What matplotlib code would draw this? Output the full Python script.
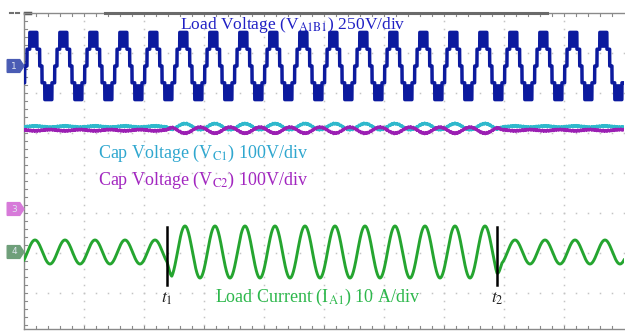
import numpy as np
import matplotlib.pyplot as plt
from matplotlib.patches import Polygon

plt.rcParams['font.family'] = ['Liberation Serif', 'DejaVu Serif']
plt.rcParams['mathtext.fontset'] = 'stix'

# screen: 10 horizontal divisions, 8 vertical divisions (units = div)
t_events = [2.383, 7.883]          # t1, t2
period = 0.5                        # fundamental period, div

# load voltage (5-level staircase)
vload_offset = 6.675
vload_step = 0.42
vload_mod = 2.05
vload_peak = 0.155

# capacitor voltages: offset and ripple before t1 / between / after t2
cap_offsets = [5.16, 5.07]
cap_ripple = [0.015, 0.075, 0.015]
cap_colors = ['#2fb9cc', '#9b1fb3']

# load current
iload_offset = 2.025
iload_amp = [0.30, 0.65, 0.30]
iload_peak = 0.183

# channel markers (label, level, colour)
markers = [('1', 6.675, '#4a5cb4'), ('3', 3.10, '#d77ad9'), ('4', 2.025, '#6f9f7a')]

x = np.linspace(0, 10, 8000)


def segment_values(vals, ramp=0.08):
    out = np.full_like(x, vals[0])
    for t, a0, a1 in zip(t_events, vals[:-1], vals[1:]):
        w = np.clip((x - t) / ramp, 0, 1)
        out = np.where(x >= t, a0 + (a1 - a0) * w, out)
    return out


fig = plt.figure(figsize=(6.25, 3.31), dpi=100)
ax = fig.add_axes([24 / 625, 2 / 331, 600 / 625, 316 / 331])
ax.set_xlim(0, 10)
ax.set_ylim(0.1, 8)
ax.set_xticks([])
ax.set_yticks([])
ax.spines['right'].set_visible(False)
for s in ['left', 'bottom', 'top']:
    ax.spines[s].set_color('#8a8a8a')
    ax.spines[s].set_linewidth(1.0)

# dotted graticule
gx = np.arange(0, 10.01, 0.2)
gy = np.arange(0.2, 8.0, 0.2)
for k in range(1, 8):
    ax.plot(gx, np.full_like(gx, k), ls='none', marker='s', ms=1.1,
            color='#c4c4c4', mew=0, zorder=1)
for k in range(1, 10):
    ax.plot(np.full_like(gy, k), gy, ls='none', marker='s', ms=1.1,
            color='#c4c4c4', mew=0, zorder=1)

# edge ticks
for yy in np.arange(0.2, 8.0, 0.2):
    ax.plot([0, 0.05], [yy, yy], color='#8a8a8a', lw=0.8, zorder=2)
for xx in np.arange(0.2, 10.0, 0.2):
    ax.plot([xx, xx], [0.1, 0.17], color='#8a8a8a', lw=0.8, zorder=2)
    ax.plot([xx, xx], [8, 7.93], color='#8a8a8a', lw=0.8, zorder=2)
ax.plot([1.35, 8.72], [8, 8], color='#6a6a6a', lw=2.2, clip_on=False, zorder=3)
ax.plot([-0.23, -0.18], [8, 8], color='#707070', lw=1.5, clip_on=False)
ax.plot([-0.14, -0.09], [8, 8], color='#707070', lw=1.5, clip_on=False)
ax.plot([0.02, 0.1], [8, 8], color='#555555', lw=2.5, clip_on=False)

# load voltage
ref = vload_mod * np.cos(2 * np.pi * (x - vload_peak) / period)
level = np.clip(np.round(ref), -2, 2)
yv = vload_offset + vload_step * level
ax.plot(x, yv, color='#0c1a9e', lw=2.5, zorder=5, solid_joinstyle='round')
top = level == 2
bot = level == -2
ax.fill_between(x, vload_offset + 1.15 * vload_step, vload_offset + 2 * vload_step,
                where=top, color='#0c1a9e', lw=1.2, zorder=5)
ax.fill_between(x, vload_offset - 1.15 * vload_step, vload_offset - 2 * vload_step,
                where=bot, color='#0c1a9e', lw=1.2, zorder=5)

# capacitor voltages
rip = segment_values(cap_ripple)
hf = 0.012 * np.sin(2 * np.pi * x * 23.7) + 0.01 * np.sin(2 * np.pi * x * 61.3)
for i, (off, col) in enumerate(zip(cap_offsets, cap_colors)):
    sgn = 1 if i == 0 else -1
    yc = off + sgn * rip * np.cos(2 * np.pi * (x - iload_peak) / period) + sgn * hf
    ax.plot(x, yc, color=col, lw=1.9, zorder=4 + i)

# load current
amp = segment_values(iload_amp)
yi = iload_offset + amp * np.cos(2 * np.pi * (x - iload_peak) / period)
ax.plot(x, yi, color='#25a530', lw=2.1, zorder=5)

# event markers
for t, lab in zip(t_events, ['$t_1$', '$t_2$']):
    ax.plot([t, t], [1.2, 2.65], color='black', lw=1.8, zorder=6)
    ax.text(t, 0.85, lab, ha='center', va='center', fontsize=12.5, color='#222222')

# channel markers
for lab, yy, col in markers:
    poly = Polygon([[-0.28, yy - 0.16], [-0.07, yy - 0.16], [0, yy],
                    [-0.07, yy + 0.16], [-0.28, yy + 0.16]],
                   closed=True, color=col, clip_on=False, zorder=7)
    ax.add_patch(poly)
    ax.text(-0.165, yy, lab, ha='center', va='center', fontsize=6.5,
            color='#dfe6ef', family='DejaVu Sans', clip_on=False, zorder=8)

# labels
ax.text(2.6, 7.7, r'Load Voltage (V$_{\mathrm{A1B1}}$) 250V/div',
        color='#2020c4', fontsize=12.5, va='center', ha='left', zorder=8)
ax.text(1.23, 4.5, r'Cap Voltage (V$_{\mathrm{C1}}$) 100V/div',
        color='#2fa7cf', fontsize=13, va='center', ha='left', zorder=8)
ax.text(1.23, 3.82, r'Cap Voltage (V$_{\mathrm{C2}}$) 100V/div',
        color='#a226c0', fontsize=13, va='center', ha='left', zorder=8)
ax.text(3.18, 0.9, r'Load Current (I$_{\mathrm{A1}}$) 10 A/div',
        color='#2db84c', fontsize=13, va='center', ha='left', zorder=8)

fig.savefig('out.png', dpi=100)
